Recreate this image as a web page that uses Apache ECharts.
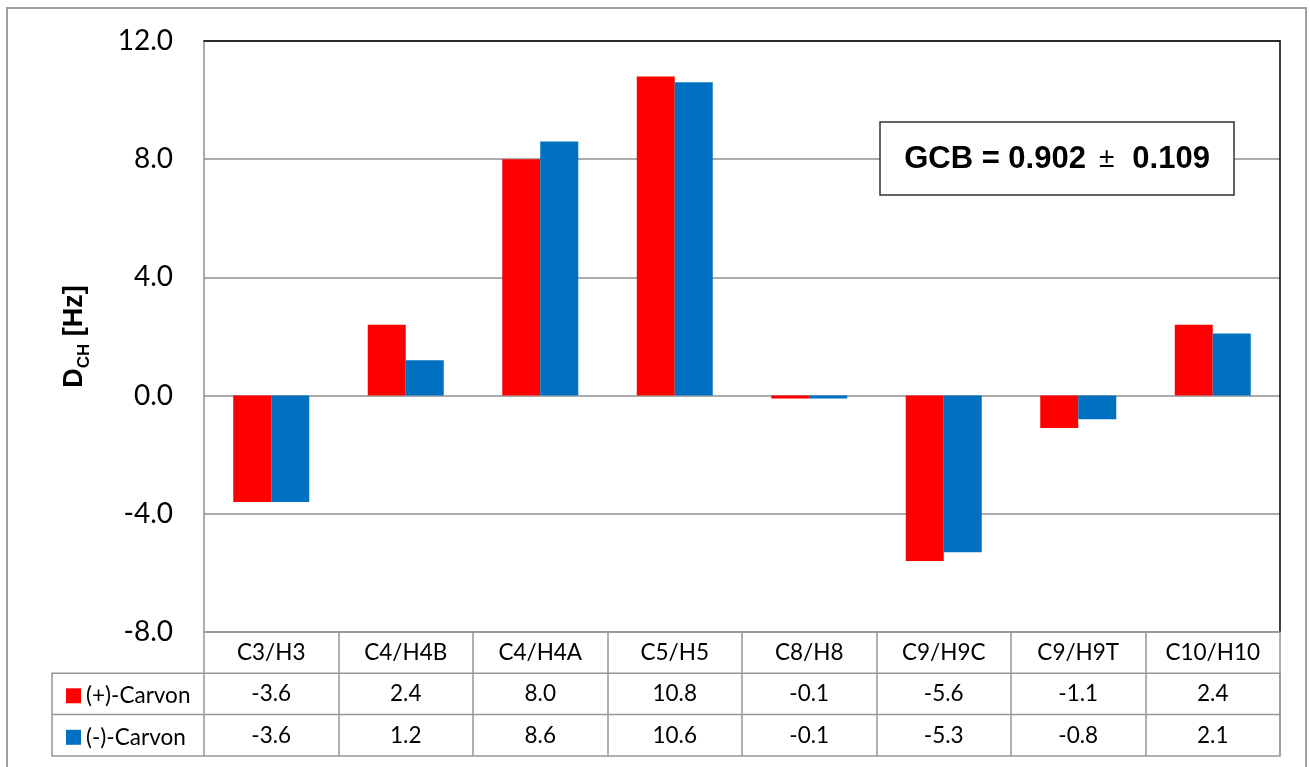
<!DOCTYPE html>
<html>
<head>
<meta charset="utf-8">
<title>Residual dipolar couplings – Carvon</title>
<script src="https://cdn.jsdelivr.net/npm/echarts@6/dist/echarts.min.js"></script>
<style>
  html, body { margin: 0; padding: 0; background: #ffffff; }
  #chart { width: 1310px; height: 767px; }
</style>
</head>
<body>
<div id="chart"></div>
<script>
// Coupling vectors (C–H pairs)
const categories = ['C3/H3', 'C4/H4B', 'C4/H4A', 'C5/H5', 'C8/H8', 'C9/H9C', 'C9/H9T', 'C10/H10'];
// Measured D_CH couplings in Hz
const plusCarvon  = [-3.6, 2.4, 8.0, 10.8, -0.1, -5.6, -1.1, 2.4];
const minusCarvon = [-3.6, 1.2, 8.6, 10.6, -0.1, -5.3, -0.8, 2.1];
const seriesNames = ['(+)-Carvon', '(-)-Carvon'];
// Value axis range
const yMin = -8, yMax = 12, yStep = 4;
const gcbText = { value: '0.902', error: '0.109' };

const RED = '#FF0000';
const BLUE = '#0070C0';
const GRID_GRAY = '#8f8f8f';
const TABLE_GRAY = '#979797';
const FONT = 'Lato, "Open Sans", sans-serif';
const BOLD_FONT = '"Liberation Sans", Arial, sans-serif';
const TABLE_FONT_SIZE = 22.5;

// Plot frame
const G = { left: 204, right: 30, top: 41, bottom: 135 };
const plotRight = 1310 - G.right;
const plotBottom = 767 - G.bottom;
const rowH = 41.3;

const chart = echarts.init(document.getElementById('chart'), null, { renderer: 'canvas' });

const fmt = v => v.toFixed(1);

const option = {
  backgroundColor: '#ffffff',
  animation: false,
  grid: { left: G.left, right: G.right, top: G.top, bottom: G.bottom, containLabel: false },
  legend: {
    orient: 'vertical',
    left: 61,
    top: plotBottom + rowH + 6,
    itemWidth: 15,
    itemHeight: 15,
    itemGap: 18.5,
    icon: 'rect',
    data: seriesNames,
    textStyle: { fontFamily: FONT, fontSize: TABLE_FONT_SIZE, color: '#000', lineHeight: 23 },
    selectedMode: false
  },
  xAxis: [
    {
      type: 'category',
      data: categories,
      position: 'bottom',
      axisLine: { show: true, onZero: false, lineStyle: { color: TABLE_GRAY, width: 1.5 } },
      axisTick: { show: true, inside: false, length: rowH * 3, lineStyle: { color: TABLE_GRAY, width: 1.5 } },
      axisLabel: {
        interval: 0,
        margin: 0,
        formatter: (val, idx) =>
          '{c|' + val + '}\n{v|' + fmt(plusCarvon[idx]) + '}\n{v|' + fmt(minusCarvon[idx]) + '}',
        rich: {
          c: { fontFamily: FONT, fontSize: TABLE_FONT_SIZE, color: '#000', lineHeight: rowH, align: 'center' },
          v: { fontFamily: FONT, fontSize: TABLE_FONT_SIZE, color: '#000', lineHeight: rowH, align: 'center' }
        }
      },
      splitLine: { show: false }
    },
    {
      type: 'category',
      data: categories,
      position: 'top',
      axisLine: { show: true, onZero: false, lineStyle: { color: '#000', width: 1.5 } },
      axisTick: { show: false },
      axisLabel: { show: false }
    }
  ],
  yAxis: [
    {
      type: 'value',
      min: yMin,
      max: yMax,
      interval: yStep,
      name: '{d|D}{s|CH}{d| [Hz]}',
      nameLocation: 'middle',
      nameGap: 113,
      nameRotate: 90,
      nameTextStyle: {
        rich: {
          d: { fontFamily: BOLD_FONT, fontWeight: 'bold', fontSize: 27, color: '#000', lineHeight: 30, verticalAlign: 'top' },
          s: { fontFamily: BOLD_FONT, fontWeight: 'bold', fontSize: 17, color: '#000', lineHeight: 18, padding: [15, 0, 0, 0], verticalAlign: 'top' }
        }
      },
      axisLine: { show: true, onZero: false, lineStyle: { color: GRID_GRAY, width: 1.5 } },
      axisTick: { show: false },
      axisLabel: {
        margin: 31,
        formatter: v => fmt(v),
        fontFamily: FONT,
        fontSize: 28,
        color: '#000'
      },
      splitLine: { show: true, lineStyle: { color: GRID_GRAY, width: 1.5 } }
    },
    {
      type: 'value',
      min: yMin,
      max: yMax,
      interval: yStep,
      position: 'right',
      axisLine: { show: true, onZero: false, lineStyle: { color: '#000', width: 1.5 } },
      axisTick: { show: false },
      axisLabel: { show: false },
      splitLine: { show: false }
    }
  ],
  series: [
    {
      name: seriesNames[0],
      type: 'bar',
      data: plusCarvon,
      barWidth: 38,
      barGap: '0%',
      itemStyle: { color: RED },
      z: 3
    },
    {
      name: seriesNames[1],
      type: 'bar',
      data: minusCarvon,
      barWidth: 38,
      barGap: '0%',
      itemStyle: { color: BLUE },
      z: 3
    }
  ],
  graphic: [
    // outer chart frame
    {
      type: 'rect',
      shape: { x: 7, y: 8, width: 1299, height: 800 },
      style: { fill: 'none', stroke: '#a0a0a0', lineWidth: 2 },
      silent: true, z: 0
    },
    // data table outline (series rows) and the row separator
    {
      type: 'rect',
      shape: { x: 52, y: plotBottom + rowH, width: plotRight - 52, height: rowH * 2 },
      style: { fill: 'none', stroke: TABLE_GRAY, lineWidth: 1.5 },
      silent: true, z: 50
    },
    {
      type: 'line',
      shape: { x1: 52, y1: plotBottom + rowH * 2, x2: plotRight, y2: plotBottom + rowH * 2 },
      style: { stroke: TABLE_GRAY, lineWidth: 1.5 },
      silent: true, z: 50
    },
    // GCB annotation box
    {
      type: 'rect',
      shape: { x: 880, y: 122, width: 354, height: 73 },
      style: { fill: '#ffffff', stroke: '#333333', lineWidth: 1.5 },
      z: 100
    },
    {
      type: 'text',
      x: 1057,
      y: 159,
      z: 101,
      style: {
        text: '{b|GCB = ' + gcbText.value + '}{p|±}{b|' + gcbText.error + '}',
        align: 'center',
        verticalAlign: 'middle',
        rich: {
          b: { fontFamily: BOLD_FONT, fontWeight: 'bold', fontSize: 31, fill: '#000' },
          p: { fontFamily: BOLD_FONT, fontWeight: 'normal', fontSize: 28, fill: '#000', padding: [0, 18, 0, 13] }
        }
      }
    }
  ]
};

chart.setOption(option);
</script>
</body>
</html>
